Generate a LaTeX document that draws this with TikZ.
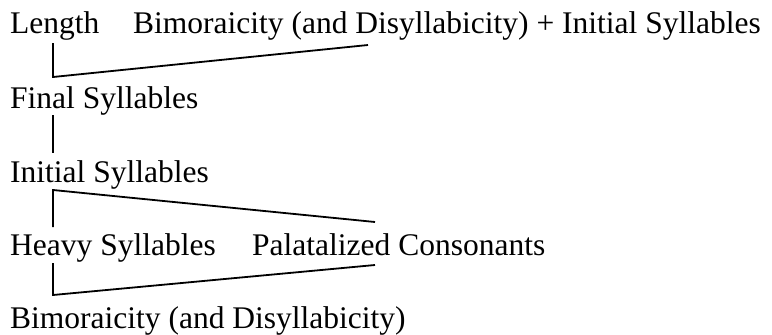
\documentclass[tikz,border=0pt]{standalone}
\usepackage{fontspec}
\setmainfont{Liberation Serif}
\usetikzlibrary{positioning}

\tikzset{
  lbl/.style={anchor=base west, inner sep=0pt, font=\fontsize{31.5}{36}\selectfont},
  link/.style={line width=1.8pt}
}

\begin{document}
\begin{tikzpicture}[x=1pt, y=1pt]
  \useasboundingbox (0,0) rectangle (772,-335);

  % labels, row by row
  \node[lbl] (len) at (10,-33) {Length};
  \node[lbl] (bimini) at (133,-33) {Bimoraicity (and Disyllabicity) + Initial Syllables};
  \node[lbl] (fin) at (10,-108) {Final Syllables};
  \node[lbl] (ini) at (10,-182) {Initial Syllables};
  \node[lbl] (hvy) at (10,-255) {Heavy Syllables};
  \node[lbl] (pal) at (252,-255) {Palatalized Consonants};
  \node[lbl] (bim) at (10,-328) {Bimoraicity (and Disyllabicity)};

  % links
  \draw[link] ([xshift=43pt,yshift=-10pt]len.base west) -- ([xshift=43pt,yshift=31pt]fin.base west)
    -- ([xshift=235pt,yshift=-12pt]bimini.base west);
  \draw[link] ([xshift=43pt,yshift=-7pt]fin.base west) -- ([xshift=43pt,yshift=29pt]ini.base west);
  \draw[link] ([xshift=123pt,yshift=33pt]pal.base west) -- ([xshift=43pt,yshift=-8pt]ini.base west)
    -- ([xshift=43pt,yshift=28pt]hvy.base west);
  \draw[link] ([xshift=43pt,yshift=-8pt]hvy.base west) -- ([xshift=43pt,yshift=33pt]bim.base west)
    -- ([xshift=123pt,yshift=-10pt]pal.base west);
\end{tikzpicture}
\end{document}
